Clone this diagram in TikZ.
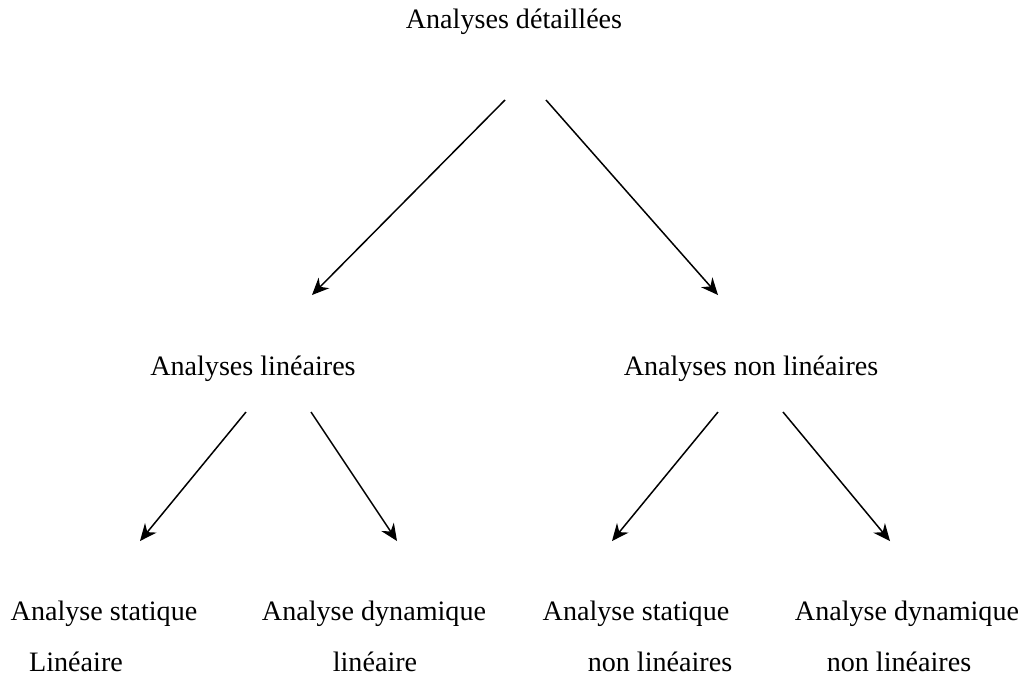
\documentclass[tikz,border=0pt]{standalone}
\usepackage{fontspec}
\setmainfont{Liberation Serif}
\usepackage{tikz}
\usetikzlibrary{arrows.meta}

\begin{document}
\begin{tikzpicture}[x=0.02cm,y=-0.02cm,>={Stealth[length=0.34cm,width=0.3cm]}]
 \tikzstyle{label} = [inner sep=0,font=\fontsize{16}{19}\selectfont]
 \tikzstyle{link} = [->,line width=0.85pt]

 \useasboundingbox (0,0) rectangle (1024,677);

% Nodes
 \node[label] (top) at (514,22) {Analyses détaillées};
 \node[label] (lin) at (253,369) {Analyses linéaires};
 \node[label] (nonlin) at (751,369) {Analyses non linéaires};

 \node[label] (stat1) at (104,614) {Analyse statique};
 \node[label] (stat2) at (76,662) {Linéaire};
 \node[label] (dyn1) at (374,614) {Analyse dynamique};
 \node[label] (dyn2) at (375,662) {linéaire};
 \node[label] (nstat1) at (636,614) {Analyse statique};
 \node[label] (nstat2) at (660,662) {non linéaires};
 \node[label] (ndyn1) at (907,614) {Analyse dynamique};
 \node[label] (ndyn2) at (899,662) {non linéaires};

% Arrow ends
 \coordinate (t1) at (505,100); \coordinate (t2) at (546,100);
 \coordinate (l0) at (312,295); \coordinate (n0) at (718,295);
 \coordinate (l1) at (246,412); \coordinate (l2) at (311,412);
 \coordinate (n1) at (718,412); \coordinate (n2) at (783,412);
 \coordinate (s0) at (140,541); \coordinate (d0) at (397,541);
 \coordinate (ns0) at (612,541); \coordinate (nd0) at (890,541);

% Arrows
 \draw[link] (t1) -- (l0);
 \draw[link] (t2) -- (n0);
 \draw[link] (l1) -- (s0);
 \draw[link] (l2) -- (d0);
 \draw[link] (n1) -- (ns0);
 \draw[link] (n2) -- (nd0);

\end{tikzpicture}
\end{document}
